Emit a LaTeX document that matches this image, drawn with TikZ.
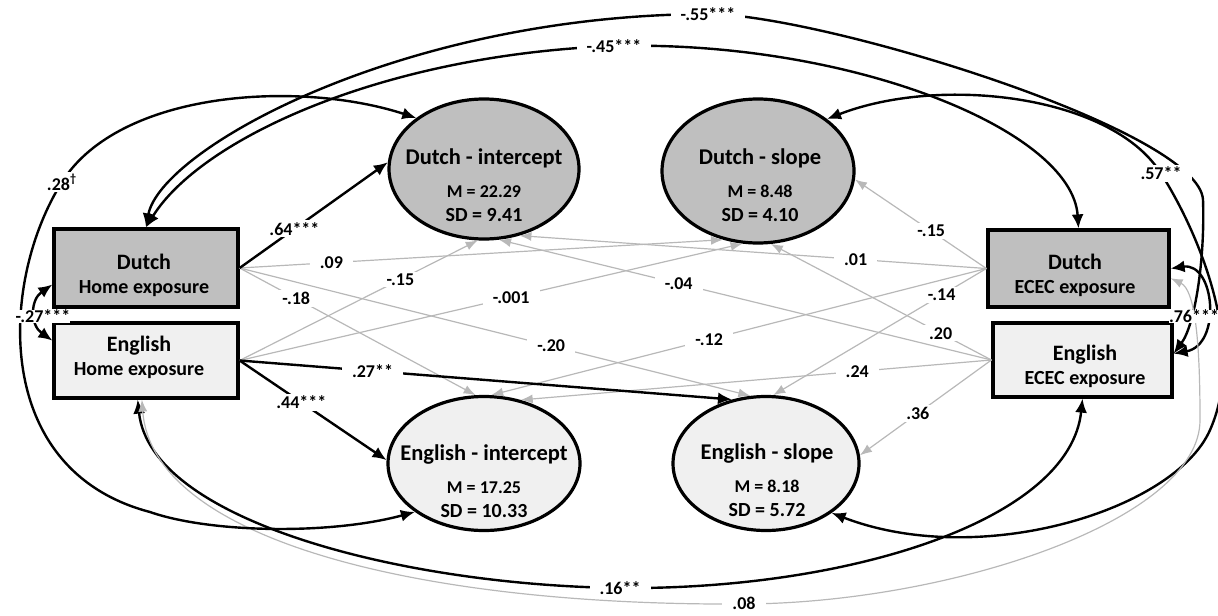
\documentclass[tikz,border=0pt]{standalone}
\usepackage{fontspec}
\setmainfont{Carlito}
\usetikzlibrary{arrows.meta,shapes.geometric}

\definecolor{dutchfill}{gray}{0.75}
\definecolor{englishfill}{gray}{0.94}
\definecolor{weakgrey}{gray}{0.72}

\begin{document}
\begin{tikzpicture}[x=0.5pt,y=-0.5pt,font=\bfseries,
        measured/.style={draw,line width=1.6pt,inner sep=0pt},
        latent/.style={draw,ellipse,line width=1.6pt,inner sep=0pt},
        boxtext/.style={align=center,inner sep=0pt},
        stats/.style={align=center,inner sep=0pt},
        strong/.style={line width=1.2pt,-{Latex[length=7pt,width=6pt]}},
        weak/.style={weakgrey,line width=0.6pt,-{Latex[length=6pt,width=4.5pt]}},
        covar/.style={line width=1.2pt,{Latex[length=7pt,width=6pt]}-{Latex[length=7pt,width=6pt]}},
        weakcovar/.style={weakgrey,line width=0.6pt,{Latex[length=6pt,width=4.5pt]}-{Latex[length=6pt,width=4.5pt]}},
        coef/.style={fill=white,text=black,inner xsep=5pt,inner ysep=1pt,font=\bfseries\fontsize{9}{10}\selectfont},
        tightcoef/.style={coef,inner sep=0pt}]
        \useasboundingbox (0,0) rectangle (1218,615);

        % exposure boxes
        \node[measured,fill=dutchfill,minimum width=92pt,minimum height=39pt] (DH) at (146,268) {};
        \node[measured,fill=englishfill,minimum width=92pt,minimum height=37.5pt] (EH) at (146,360.5) {};
        \node[measured,fill=dutchfill,minimum width=90.5pt,minimum height=38.5pt] (DE) at (1078.5,268.5) {};
        \node[measured,fill=englishfill,minimum width=89.5pt,minimum height=37pt] (EE) at (1082.5,360) {};

        \node[boxtext] (DHtext) at (144,275) {\fontsize{11}{13.5}\selectfont Dutch\\\fontsize{10}{13.5}\selectfont Home exposure};
        \node[boxtext] (EHtext) at (139,357) {\fontsize{11}{13}\selectfont English\\\fontsize{10}{13}\selectfont Home exposure};
        \node[boxtext] (DEtext) at (1075,275) {\fontsize{11}{13.5}\selectfont Dutch\\\fontsize{10}{13.5}\selectfont ECEC exposure};
        \node[boxtext] (EEtext) at (1085,366) {\fontsize{11}{13.5}\selectfont English\\\fontsize{10}{13.5}\selectfont ECEC exposure};

        % growth factors
        \node[latent,fill=dutchfill,minimum width=95pt,minimum height=70pt] (DI) at (484,169) {};
        \node[latent,fill=dutchfill,minimum width=96pt,minimum height=72pt] (DS) at (758,171) {};
        \node[latent,fill=englishfill,minimum width=96pt,minimum height=67pt] (EI) at (484,463.5) {};
        \node[latent,fill=englishfill,minimum width=93pt,minimum height=67pt] (ES) at (766,463.5) {};

        \node[stats] (DItext) at (484,185) {\fontsize{11.25}{13}\selectfont Dutch - intercept\\[4.5pt]\fontsize{9}{11}\selectfont M = 22.29\\SD = 9.41};
        \node[stats] (DStext) at (760,185) {\fontsize{11.25}{13}\selectfont Dutch - slope\\[4.5pt]\fontsize{9}{11}\selectfont M = 8.48\\SD = 4.10};
        \node[stats] (EItext) at (484,481) {\fontsize{11.25}{13}\selectfont English - intercept\\[4.5pt]\fontsize{9}{11}\selectfont M = 17.25\\SD = 10.33};
        \node[stats] (EStext) at (767,480) {\fontsize{11.25}{13}\selectfont English - slope\\[4.5pt]\fontsize{9}{11}\selectfont M = 8.18\\SD = 5.72};

        % non-significant paths
        \draw[weak] (DH.east) -- node[coef,pos=0.19] {.09} (DS.243);
        \draw[weak] (DH.east) -- node[coef,pos=0.24] {-.18} (EI.97);
        \draw[weak] (DH.east) -- node[coef,pos=0.61] {-.20} (ES.103);
        \draw[weak] (EH.east) -- node[coef,pos=0.675] {-.15} (DI.265);
        \draw[weak] (EH.east) -- node[coef,pos=0.54] {-.001} (DS.258);
        \draw[weak] (DE.west) -- node[coef,pos=0.28] {.01} (DI.298);
        \draw[weak] (DE.west) -- node[coef,pos=0.42] {-.15} (DS.355);
        \draw[weak] (DE.west) -- node[coef,pos=0.56] {-.12} (EI.84);
        \draw[weak] (DE.west) -- node[coef,pos=0.21] {-.14} (ES.84);
        \draw[weak] (EE.west) -- node[coef,pos=0.635] {-.04} (DI.282);
        \draw[weak] (EE.west) -- node[coef,pos=0.23] {.20} (DS.280);
        \draw[weak] (EE.west) -- node[coef,pos=0.285] {.24} (EI.60);
        \draw[weak] (EE.west) -- node[coef,pos=0.56] {.36} (ES.5);

        \draw[strong] (DH.east) -- node[coef,pos=0.37] {.64***} (DI.176);
        \draw[strong] (EH.east) -- node[coef,pos=0.42] {.44***} (EI.178);
        \draw[strong] (EH.east) -- node[coef,pos=0.27] {.27**} (ES.118);

        % covariances
        \draw[covar] (DH.north) .. controls (200,140) and (380,55) .. (614,46) .. controls (850,40) and (1072,130) .. (DE.north);
        \draw[covar] (DH.north) .. controls (160,150) and (400,15) .. (708,14) .. controls (820,14) and (1200,130) .. (1203,200) .. controls (1205,260) and (1195,325) .. (EE.4);
        \draw[covar] (DS.37) .. controls (940,75) and (1110,95) .. (1160,172) .. controls (1190,218) and (1250,340) .. (1210,430) .. controls (1175,510) and (980,570) .. (ES.323);
        \draw[covar] (DE.east) .. controls (1215,262) and (1222,345) .. (EE.4);
        \draw[covar] (EH.258) .. controls (150,520) and (400,585) .. (620,588) .. controls (850,590) and (1070,520) .. (EE.south);
        \draw[weakcovar] (EH.264) .. controls (152,540) and (420,606) .. (744,604) .. controls (950,603) and (1200,520) .. (1200,420) .. controls (1200,340) and (1195,290) .. (DE.-6);
        \draw[covar] (DI.143) .. controls (300,80) and (120,90) .. (62,182) .. controls (0,280) and (-10,470) .. (150,512) .. controls (210,533) and (330,535) .. (EI.215);
        \draw[covar] (DH.190) .. controls (30,300) and (30,325) .. (EH.168);

        \node[coef] (c45) at (614,46) {-.45***};
        \node[coef] (c55) at (708,14) {-.55***};
        \node[coef] (c57) at (1161,173) {.57**};
        \node[tightcoef] (c76) at (1194,316) {.76***};
        \node[coef] (c16) at (620,588) {.16**};
        \node[coef] (c08) at (744,603) {.08};
        \node[coef] (c28) at (62,182) {.28\textsuperscript{\textdagger}};
        \node[tightcoef] (c27) at (43,316) {-.27***};
\end{tikzpicture}
\end{document}
